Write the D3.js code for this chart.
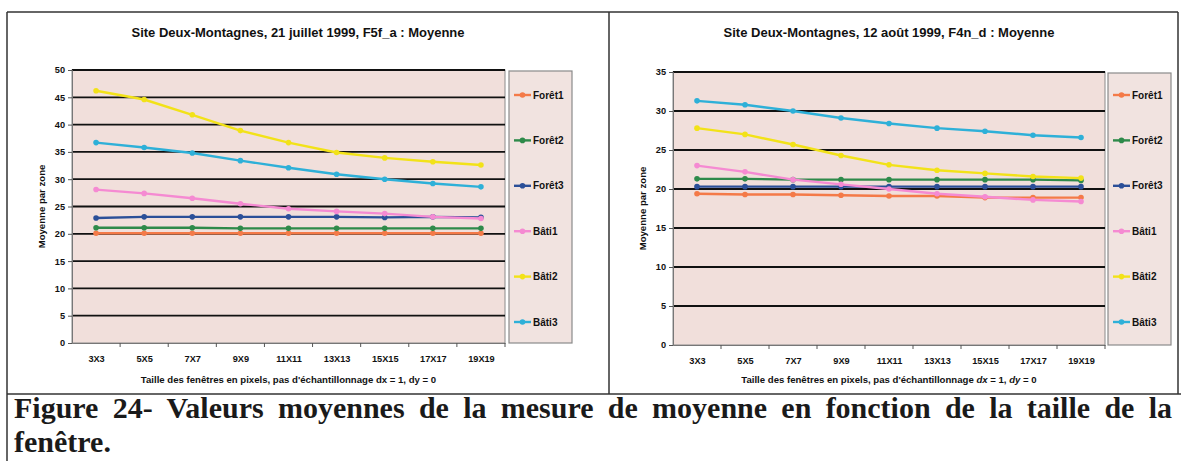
<!DOCTYPE html>
<meta charset="utf-8">
<style>
body { margin: 0; background: #fff; }
svg { display: block; }
.chart text { font-family: "Liberation Sans", Arial, sans-serif; font-weight: bold; fill: #111; }
.title { font-size: 13px; }
.tick text { font-size: 9.2px; }
.axis-title { font-size: 9.6px; }
.legend text { font-size: 10px; }
.caption { font-family: "Liberation Serif", "Times New Roman", serif; font-weight: bold; font-size: 30px; fill: #1a1a1a; }
</style>
<svg width="1181" height="461"></svg>
<script src="https://d3js.org/d3.v7.min.js"></script>
<script>

var categories = ["3X3", "5X5", "7X7", "9X9", "11X11", "13X13", "15X15", "17X17", "19X19"];
var seriesNames = ["Forêt1", "Forêt2", "Forêt3", "Bâti1", "Bâti2", "Bâti3"];
var seriesColors = ["#f47a48", "#2e8a4a", "#2b4f98", "#f58ad2", "#f2e218", "#2eb0d8"];

// 21 juillet 1999, F5f_a
var juilletTicks = [0, 5, 10, 15, 20, 25, 30, 35, 40, 45, 50];
var juilletForet1 = [20.1, 20.1, 20.1, 20.1, 20.1, 20.1, 20.1, 20.1, 20.1];
var juilletForet2 = [21.1, 21.1, 21.1, 21.0, 21.0, 21.0, 21.0, 21.0, 21.0];
var juilletForet3 = [22.9, 23.1, 23.1, 23.1, 23.1, 23.1, 23.0, 23.1, 23.0];
var juilletBati1 = [28.1, 27.4, 26.5, 25.5, 24.6, 24.1, 23.7, 23.1, 22.8];
var juilletBati2 = [46.2, 44.6, 41.8, 38.9, 36.7, 34.9, 33.9, 33.2, 32.6];
var juilletBati3 = [36.7, 35.8, 34.8, 33.4, 32.1, 30.9, 30.0, 29.2, 28.6];

// 12 août 1999, F4n_d
var aoutTicks = [0, 5, 10, 15, 20, 25, 30, 35];
var aoutForet1 = [19.4, 19.3, 19.3, 19.2, 19.1, 19.1, 18.9, 18.9, 18.9];
var aoutForet2 = [21.3, 21.3, 21.2, 21.2, 21.2, 21.2, 21.2, 21.2, 21.1];
var aoutForet3 = [20.3, 20.3, 20.3, 20.3, 20.3, 20.3, 20.3, 20.3, 20.3];
var aoutBati1 = [23.0, 22.2, 21.2, 20.6, 20.0, 19.4, 19.0, 18.6, 18.4];
var aoutBati2 = [27.8, 27.0, 25.7, 24.3, 23.1, 22.4, 22.0, 21.6, 21.4];
var aoutBati3 = [31.3, 30.8, 30.0, 29.1, 28.4, 27.8, 27.4, 26.9, 26.6];

var svg = d3.select("svg");

// frame
var frame = svg.append("g").attr("stroke", "#333").attr("stroke-width", 1.5);
frame.append("line").attr("x1", 7).attr("y1", 12).attr("x2", 1178).attr("y2", 12);
frame.append("line").attr("x1", 7).attr("y1", 12).attr("x2", 7).attr("y2", 461);
frame.append("line").attr("x1", 609).attr("y1", 12).attr("x2", 609).attr("y2", 394);
frame.append("line").attr("x1", 1178).attr("y1", 12).attr("x2", 1178).attr("y2", 394);
frame.append("line").attr("x1", 7).attr("y1", 394).attr("x2", 1181).attr("y2", 394);

function drawChart(opts) {
  var g = svg.append("g").attr("class", "chart");
  var x0 = opts.left, x1 = opts.right, y0 = opts.top, y1 = opts.bottom;

  var x = d3.scalePoint().domain(categories).range([x0, x1]).padding(0.5);
  var xb = d3.scaleBand().domain(categories).range([x0, x1]);
  var y = d3.scaleLinear().domain([0, d3.max(opts.ticks)]).range([y1, y0]);

  g.append("text").attr("class", "title")
      .attr("x", opts.titleX).attr("y", 37)
      .attr("text-anchor", "middle")
      .text(opts.title);

  g.append("rect")
      .attr("x", x0).attr("y", y0)
      .attr("width", x1 - x0).attr("height", y1 - y0)
      .attr("fill", "#f1dfdb").attr("stroke", "#8a8a8a").attr("stroke-width", 1);

  // gridlines
  g.append("g").selectAll("line")
    .data(opts.ticks.filter(function(d) { return d > 0; }))
    .enter().append("line")
      .attr("x1", x0).attr("x2", x1)
      .attr("y1", function(d) { return y(d); })
      .attr("y2", function(d) { return y(d); })
      .attr("stroke", "#111").attr("stroke-width", 1.8);

  var yAxis = g.append("g")
      .attr("transform", "translate(" + x0 + ",0)")
      .call(d3.axisLeft(y).tickValues(opts.ticks).tickSize(4).tickPadding(3));
  yAxis.select(".domain").attr("stroke", "#777");
  yAxis.selectAll(".tick line").attr("stroke", "#555");

  var xAxis = g.append("g")
      .attr("transform", "translate(0," + y1 + ")")
      .call(d3.axisBottom(x).tickSize(0).tickPadding(12));
  xAxis.select(".domain").attr("stroke", "#777");
  // ticks at the category boundaries
  xAxis.selectAll(".bound")
    .data(categories.slice(1).concat(["end"]))
    .enter().append("line")
      .attr("class", "bound")
      .attr("x1", function(d, i) { return x0 + xb.step() * (i + 1); })
      .attr("x2", function(d, i) { return x0 + xb.step() * (i + 1); })
      .attr("y1", 0).attr("y2", 4)
      .attr("stroke", "#555");

  g.append("text").attr("class", "axis-title")
      .attr("x", (x0 + x1) / 2).attr("y", 383)
      .attr("text-anchor", "middle")
      .html(opts.xTitle);

  g.append("text").attr("class", "axis-title")
      .attr("transform", "translate(" + opts.yTitleX + "," + ((y0 + y1) / 2) + ") rotate(-90)")
      .attr("text-anchor", "middle")
      .text("Moyenne par zone");

  var line = d3.line()
      .x(function(d, i) { return x(categories[i]); })
      .y(function(d) { return y(d); });

  opts.series.forEach(function(values, k) {
    var s = g.append("g");
    s.append("path")
        .attr("d", line(values))
        .attr("fill", "none")
        .attr("stroke", seriesColors[k])
        .attr("stroke-width", 2.4);
    s.selectAll("circle")
      .data(values)
      .enter().append("circle")
        .attr("cx", function(d, i) { return x(categories[i]); })
        .attr("cy", function(d) { return y(d); })
        .attr("r", 2.8)
        .attr("fill", seriesColors[k]);
  });

  // legend
  var lg = g.append("g").attr("class", "legend");
  lg.append("rect")
      .attr("x", opts.legendX).attr("y", y0 + 1)
      .attr("width", 63).attr("height", y1 - y0 - 1)
      .attr("fill", "#f1e3e0").attr("stroke", "#8a8a8a").attr("stroke-width", 1.2);
  var item = lg.selectAll(".item")
    .data(seriesNames)
    .enter().append("g")
      .attr("transform", function(d, i) { return "translate(" + opts.legendX + "," + (95 + i * 45.4) + ")"; });
  item.append("line")
      .attr("x1", 5).attr("x2", 22).attr("y1", 0).attr("y2", 0)
      .attr("stroke", function(d, i) { return seriesColors[i]; })
      .attr("stroke-width", 2.4);
  item.append("circle")
      .attr("cx", 13.5).attr("cy", 0).attr("r", 2.8)
      .attr("fill", function(d, i) { return seriesColors[i]; });
  item.append("text")
      .attr("x", 24).attr("y", 3.5)
      .text(function(d) { return d; });
}

drawChart({
  title: "Site Deux-Montagnes, 21 juillet 1999, F5f_a : Moyenne",
  titleX: 298,
  xTitle: "Taille des fenêtres en pixels, pas d'échantillonnage dx = 1, dy = 0",
  left: 72, right: 505, top: 70, bottom: 343,
  legendX: 509, yTitleX: 45,
  ticks: juilletTicks,
  series: [juilletForet1, juilletForet2, juilletForet3, juilletBati1, juilletBati2, juilletBati3]
});

drawChart({
  title: "Site Deux-Montagnes, 12 août 1999, F4n_d : Moyenne",
  titleX: 889,
  xTitle: "Taille des fenêtres en pixels, pas d'échantillonnage <tspan font-style='italic'>dx</tspan> = 1, <tspan font-style='italic'>dy</tspan> = 0",
  left: 673, right: 1105, top: 72, bottom: 345,
  legendX: 1108, yTitleX: 646,
  ticks: aoutTicks,
  series: [aoutForet1, aoutForet2, aoutForet3, aoutBati1, aoutBati2, aoutBati3]
});

// caption, justified over the width by spreading the word spaces
var captionLine = "Figure 24- Valeurs moyennes de la mesure de moyenne en fonction de la taille de la";
var cap = svg.append("text").attr("class", "caption")
    .attr("x", 14).attr("y", 418)
    .text(captionLine);
var natural = cap.node().getComputedTextLength();
var spaces = captionLine.split(" ").length - 1;
if (natural < 1158) cap.style("word-spacing", ((1158 - natural) / spaces) + "px");
else cap.attr("textLength", 1158).attr("lengthAdjust", "spacingAndGlyphs");
svg.append("text").attr("class", "caption")
    .attr("x", 14).attr("y", 452)
    .text("fenêtre.");

</script>
